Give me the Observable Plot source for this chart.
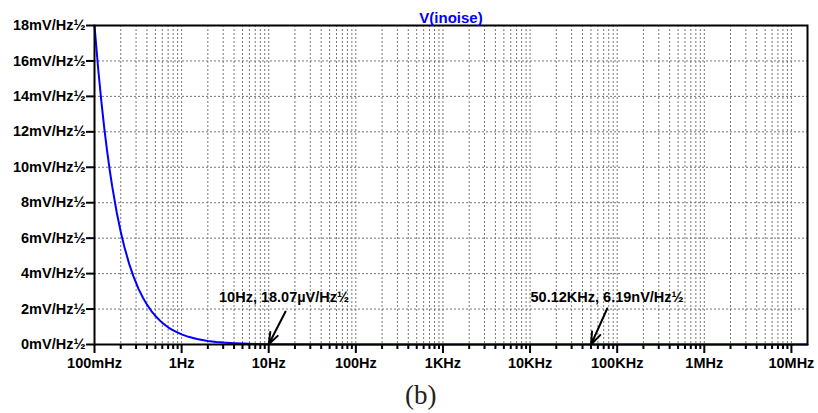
<!DOCTYPE html>
<html>
<head>
<meta charset="utf-8">
<script src="https://cdn.jsdelivr.net/npm/d3@7"></script>
<script src="https://cdn.jsdelivr.net/npm/@observablehq/plot@0.6"></script>
<style>
  html, body { margin: 0; padding: 0; background: #fff; }
  body { position: relative; width: 818px; height: 413px; overflow: hidden; font-family: "Liberation Sans", Arial, sans-serif; }
  #caption { position: absolute; left: 405px; top: 380px; font-family: "Liberation Serif", "DejaVu Serif", serif; font-size: 27px; color: #222; }
</style>
</head>
<body>
<div id="chart"></div>
<div id="caption">(b)</div>
<script>
// Frequency (Hz) and noise density (mV/Hz½)
const freqHz = [0.1, 0.11, 0.12, 0.13, 0.14, 0.15, 0.16, 0.18, 0.2, 0.22, 0.25, 0.28, 0.32, 0.36, 0.4, 0.45, 0.5, 0.6, 0.7, 0.8, 1.0, 1.2, 1.5, 2, 2.5, 3, 4, 5, 7, 10, 100, 1000, 10000, 50120, 1e6, 15.3e6];
const noiseMV = [18, 15.6, 13.69, 12.14, 10.87, 9.8, 8.89, 7.45, 6.36, 5.52, 4.55, 3.84, 3.14, 2.64, 2.25, 1.89, 1.61, 1.22, 0.97, 0.8, 0.57, 0.433, 0.31, 0.2, 0.144, 0.11, 0.071, 0.051, 0.031, 0.01807, 0.002, 0.00023, 0.000027, 0.00000619, 0.0000003, 0.00000002];

const xTickValues = [0.1, 1, 10, 100, 1e3, 1e4, 1e5, 1e6, 1e7];
const xTickLabels = ["100mHz", "1Hz", "10Hz", "100Hz", "1KHz", "10KHz", "100KHz", "1MHz", "10MHz"];
const yTickValues = [0, 2, 4, 6, 8, 10, 12, 14, 16, 18];
const yTickLabels = ["0mV/Hz½", "2mV/Hz½", "4mV/Hz½", "6mV/Hz½", "8mV/Hz½", "10mV/Hz½", "12mV/Hz½", "14mV/Hz½", "16mV/Hz½", "18mV/Hz½"];

// Cursor annotations
const noteText = ["10Hz, 18.07µV/Hz½", "50.12KHz, 6.19nV/Hz½"];
const noteTextX = [15.0, 76600];
const noteTextY = [2.65, 2.65];
const noteArrowX1 = [15.6, 76900];
const noteArrowY1 = [1.86, 2.03];
const noteArrowX2 = [10, 50120];
const noteArrowY2 = [0.01807, 0.00000619];

const data = freqHz.map((f, i) => ({f, v: noiseMV[i]}));
const notes = noteText.map((t, i) => ({t, tx: noteTextX[i], ty: noteTextY[i], x1: noteArrowX1[i], y1: noteArrowY1[i], x2: noteArrowX2[i], y2: noteArrowY2[i]}));
const xLabels = xTickValues.map((v, i) => ({v, label: xTickLabels[i]}));

// log grid positions (2..9 and decades)
const minorTicks = [];
const gridX = [];
for (let e = -1; e <= 7; e++) {
  for (let m = 1; m <= 9; m++) {
    const v = m * Math.pow(10, e);
    if (v > 15.3e6) continue;
    if (m > 1) minorTicks.push(v);
    if (v > 0.1) gridX.push(v);
  }
}

const font = "Liberation Sans, Arial, sans-serif";
const chart = Plot.plot({
  width: 818,
  height: 375,
  marginLeft: 94,
  marginRight: 11,
  marginTop: 25,
  marginBottom: 31,
  style: {fontFamily: font, background: "#fff"},
  x: {type: "log", domain: [0.1, 15.3e6], label: null},
  y: {domain: [0, 18], label: null},
  marks: [
    Plot.ruleX(gridX, {stroke: "#777", strokeWidth: 1, strokeDasharray: "2,2"}),
    Plot.ruleY(yTickValues.slice(1), {stroke: "#777", strokeWidth: 1, strokeDasharray: "2,2"}),
    Plot.line(data, {x: "f", y: "v", stroke: "#0000ff", strokeWidth: 2}),
    Plot.frame({stroke: "#000", strokeWidth: 2}),
    Plot.axisX({ticks: minorTicks, tickSize: 5, strokeWidth: 2, tickFormat: () => "", label: null}),
    Plot.axisX({ticks: xTickValues, tickSize: 9, strokeWidth: 2, tickFormat: () => "", label: null}),
    Plot.text(xLabels, {x: "v", text: "label", frameAnchor: "bottom", dy: 23, fontSize: 14.5, fontWeight: "bold", fill: "#000"}),
    Plot.axisY({ticks: yTickValues, tickSize: 8, strokeWidth: 2, tickPadding: 1, tickFormat: (d, i) => yTickLabels[i], fontSize: 14.5, fontWeight: "bold", fill: "#000", label: null}),
    Plot.arrow(notes, {x1: "x1", y1: "y1", x2: "x2", y2: "y2", stroke: "#000", strokeWidth: 2, headLength: 15, headAngle: 40}),
    Plot.text(notes, {x: "tx", y: "ty", text: "t", fontSize: 14.5, fontWeight: "bold", fill: "#000"}),
    Plot.text(["V(inoise)"], {frameAnchor: "top", dy: -13, fill: "#0000ff", fontSize: 15, fontWeight: "bold"})
  ]
});
document.getElementById("chart").appendChild(chart);
</script>
</body>
</html>
